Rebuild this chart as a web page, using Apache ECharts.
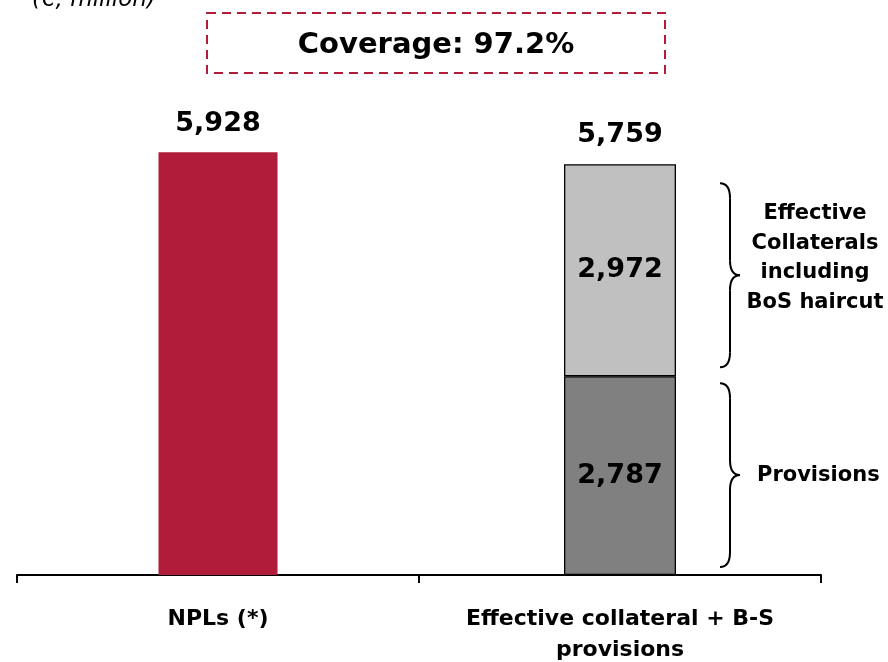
<!DOCTYPE html>
<html>
<head>
<meta charset="utf-8">
<script src="https://cdn.jsdelivr.net/npm/echarts@6/dist/echarts.min.js"></script>
<style>
  html, body { margin: 0; padding: 0; background: #fff; }
  #main { width: 888px; height: 662px; }
</style>
</head>
<body>
<div id="main"></div>
<script>
// data
const categories = ['NPLs (*)', 'Effective collateral + B-S\nprovisions']
const nplValues = [5928, '-']
const provisionValues = ['-', 2787]
const collateralValues = ['-', 2972]
const totalValues = ['-', 5759]
const unitText = '(€, million)'
const coverageText = 'Coverage: 97.2%'
const collateralNote = 'Effective\nCollaterals\nincluding\nBoS haircut'
const provisionNote = 'Provisions'

const font = 'DejaVu Sans'
const red = '#B01C3A'
const fmt = v => Number(v).toLocaleString('en-US')

const chart = echarts.init(document.getElementById('main'))
const nplWidth = 119
const stackWidth = 112

const valueLabel = {
  show: true,
  color: '#000',
  fontFamily: font,
  fontWeight: 'bold',
  fontSize: 27,
  formatter: p => fmt(p.value)
}

const option = {
  animation: false,
  backgroundColor: '#fff',
  grid: { left: 17, right: 67, top: 147, bottom: 87, containLabel: false, outerBoundsMode: 'none' },
  xAxis: [
    {
      type: 'category',
      data: categories,
      boundaryGap: true,
      axisLine: { lineStyle: { color: '#000', width: 2 } },
      axisTick: { show: true, interval: 0, length: 8, lineStyle: { color: '#000', width: 2 } },
      axisLabel: {
        interval: 0,
        margin: 29,
        color: '#000',
        fontFamily: font,
        fontWeight: 'bold',
        fontSize: 22,
        lineHeight: 31
      }
    },
    {
      // same categories, used only to give the stacked bar its own width
      type: 'category',
      data: categories,
      show: false
    }
  ],
  yAxis: {
    type: 'value',
    min: 0,
    max: 6000,
    show: false,
    splitLine: { show: false }
  },
  series: [
    {
      name: 'NPLs',
      type: 'bar',
      xAxisIndex: 0,
      barWidth: nplWidth,
      data: nplValues,
      itemStyle: { color: red },
      label: Object.assign({}, valueLabel, { position: 'top', distance: 15 })
    },
    {
      name: 'Provisions',
      type: 'bar',
      xAxisIndex: 1,
      stack: 'cover',
      barWidth: stackWidth,
      data: provisionValues,
      itemStyle: { color: '#808080', borderColor: '#000', borderWidth: 1.3 },
      label: Object.assign({}, valueLabel, { position: 'inside' })
    },
    {
      name: 'Collaterals',
      type: 'bar',
      xAxisIndex: 1,
      stack: 'cover',
      barWidth: stackWidth,
      data: collateralValues,
      itemStyle: { color: '#C0C0C0', borderColor: '#000', borderWidth: 1.3 },
      label: Object.assign({}, valueLabel, { position: 'inside' })
    }
  ]
}
chart.setOption(option)

// annotations placed from the data values
const px = (i, v) => chart.convertToPixel({ xAxisIndex: 1, yAxisIndex: 0 }, [i, v])
const barCenter = px(1, 0)[0]
const barRight = barCenter + stackWidth / 2
const yBase = px(1, 0)[1]
const yMid = px(1, provisionValues[1])[1]
const yTop = px(1, totalValues[1])[1]
const bx = barRight + 44

function brace(x0, y0, y1) {
  const w = 20
  const xm = x0 + w / 2
  const ym = (y0 + y1) / 2
  const r = 15
  const st = { stroke: '#000', lineWidth: 2, fill: 'none' }
  const q = (x1, y1, cx, cy, x2, y2) => ({ type: 'bezierCurve', shape: { x1, y1, cpx1: cx, cpy1: cy, x2, y2 }, style: st })
  const l = (x1, y1, x2, y2) => ({ type: 'line', shape: { x1, y1, x2, y2 }, style: st })
  return {
    type: 'group',
    children: [
      q(x0, y0, xm, y0, xm, y0 + r),
      l(xm, y0 + r, xm, ym - r),
      q(xm, ym - r, xm, ym, x0 + w, ym),
      q(x0 + w, ym, xm, ym, xm, ym + r),
      l(xm, ym + r, xm, y1 - r),
      q(xm, y1 - r, xm, y1, x0, y1)
    ]
  }
}

const b1 = [yTop + 19, yMid - 9]
const b2 = [yMid + 7, yBase - 8]

chart.setOption({
  graphic: [
    {
      type: 'text',
      x: 32,
      y: 12,
      style: { text: unitText, font: 'italic 23px "' + font + '"', fill: '#000', verticalAlign: 'bottom' }
    },
    {
      type: 'rect',
      shape: { x: 207, y: 13, width: 458, height: 60 },
      style: { fill: 'none', stroke: red, lineWidth: 2, lineDash: [9, 6] }
    },
    {
      type: 'text',
      x: 436,
      y: 45,
      style: {
        text: coverageText,
        font: 'bold 29px "' + font + '"',
        fill: '#000',
        align: 'center',
        verticalAlign: 'middle'
      }
    },
    {
      type: 'text',
      x: barCenter,
      y: yTop - 16,
      style: {
        text: fmt(totalValues[1]),
        font: 'bold 27px "' + font + '"',
        fill: '#000',
        align: 'center',
        verticalAlign: 'bottom'
      }
    },
    brace(bx, b1[0], b1[1]),
    brace(bx, b2[0], b2[1]),
    {
      type: 'text',
      x: bx + 95,
      y: (b1[0] + b1[1]) / 2 - 17,
      style: {
        text: collateralNote,
        font: 'bold 21px "' + font + '"',
        lineHeight: 29.5,
        fill: '#000',
        align: 'center',
        verticalAlign: 'middle'
      }
    },
    {
      type: 'text',
      x: bx + 37,
      y: (b2[0] + b2[1]) / 2,
      style: {
        text: provisionNote,
        font: 'bold 21px "' + font + '"',
        fill: '#000',
        align: 'left',
        verticalAlign: 'middle'
      }
    }
  ]
})
</script>
</body>
</html>
